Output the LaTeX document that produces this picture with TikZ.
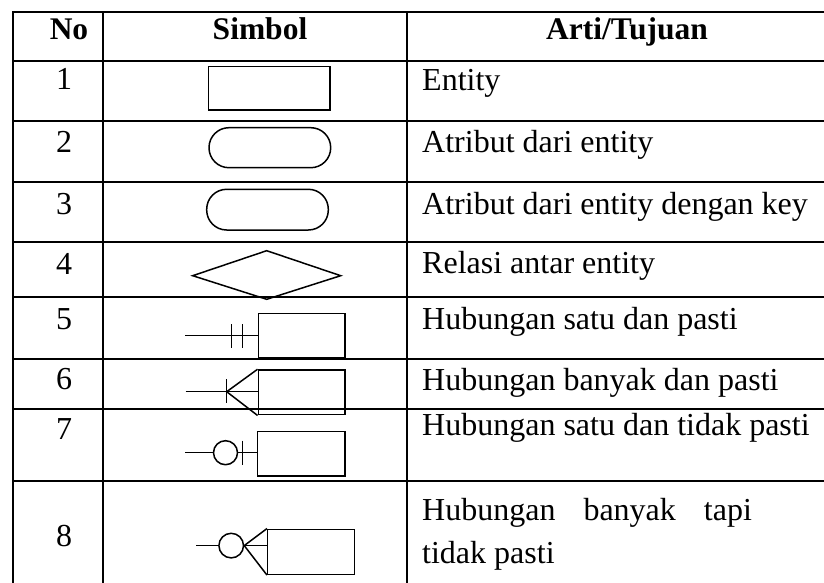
\documentclass[tikz,border=0pt]{standalone}
\usepackage{fontspec}
\setmainfont{Liberation Serif}
\usetikzlibrary{calc}
\begin{document}
\begin{tikzpicture}[x=1pt,y=-1pt,
  gridline/.style={line width=2.3pt, line cap=rect},
  sym/.style={line width=1.5pt},
  txt/.style={inner sep=0pt, font=\fontsize{32}{38}\selectfont},
  hdr/.style={inner sep=0pt, font=\fontsize{31.5}{38}\selectfont\bfseries},
  box/.style={draw, sym, inner sep=0pt, shape=rectangle},
  ring/.style={draw, sym, circle, inner sep=0pt, minimum size=24pt}]
\useasboundingbox (0,0) rectangle (824,583);
% grid
\foreach \yy in {12,61,121,182,242,297,359,409,481}
  \draw[gridline] (13,\yy) -- (826,\yy);
\foreach \xx in {13,103,407}
  \draw[gridline] (\xx,12) -- (\xx,586);
% header
\node[hdr, anchor=base] (hno) at (69,40) {No};
\node[hdr, anchor=base] (hsim) at (260,40) {Simbol};
\node[hdr, anchor=base] (hart) at (627,40) {Arti/Tujuan};
% numbers
\node[txt, anchor=base] (n1) at (64,90) {1};
\node[txt, anchor=base] (n2) at (64,153) {2};
\node[txt, anchor=base] (n3) at (64,214.5) {3};
\node[txt, anchor=base] (n4) at (64,274.5) {4};
\node[txt, anchor=base] (n5) at (64,329.5) {5};
\node[txt, anchor=base] (n6) at (64,389.5) {6};
\node[txt, anchor=base] (n7) at (64,439) {7};
\node[txt, anchor=base] (n8) at (64,546.5) {8};
% meanings
\node[txt, anchor=base west] (t1) at (422,91) {Entity};
\node[txt, anchor=base west] (t2) at (422,152) {Atribut dari entity};
\node[txt, anchor=base west] (t3) at (422,214) {Atribut dari entity dengan key};
\node[txt, anchor=base west] (t4) at (422,273) {Relasi antar entity};
\node[txt, anchor=base west] (t5) at (422,329) {Hubungan satu dan pasti};
\node[txt, anchor=base west] (t6) at (422,390) {Hubungan banyak dan pasti};
\node[txt, anchor=base west] (t7) at (422,435) {Hubungan satu dan tidak pasti};
\node[txt, anchor=base west] (t8a) at (422,520) {Hubungan\hspace{28pt}banyak\hspace{28pt}tapi};
\node[txt, anchor=base west] (t8b) at (422,563) {tidak pasti};
% symbols
\node[box, minimum width=121.7pt, minimum height=43.3pt] (e1) at (269.15,88.35) {};
\node[box, rounded corners=19.9pt, minimum width=121.7pt, minimum height=40pt] (a2) at (269.85,147.7) {};
\node[box, rounded corners=19.9pt, minimum width=121.6pt, minimum height=40.7pt] (a3) at (267.5,209.65) {};
\draw[sym, line join=miter] (192.7,275.7) -- (266.7,250.7) -- (340.7,275.7) -- (266.7,299.3) -- cycle;
% row 5
\node[box, minimum width=86.7pt, minimum height=44pt] (e5) at (301.65,335.3) {};
\coordinate (s5) at (185,335.7);
\draw[sym] (s5) -- (e5.west |- s5);
\draw[sym] (231.7,324.3) -- (231.7,347.7);
\draw[sym] (242.7,324.3) -- (242.7,347.7);
% row 6
\node[box, minimum width=86.7pt, minimum height=44.7pt] (e6) at (301.65,392.35) {};
\coordinate (s6) at (185.7,391.7);
\coordinate (k6) at (226.7,391.7);
\draw[sym] (s6) -- (e6.west |- s6);
\draw[sym] (226.7,379.3) -- (226.7,403.3);
\draw[sym] (e6.north west) -- (k6) -- (e6.south west);
% row 7
\node[box, minimum width=87.3pt, minimum height=44.3pt] (e7) at (301.35,453.85) {};
\node[ring] (o7) at (225.5,452.7) {};
\coordinate (s7) at (185,452.7);
\draw[sym] (s7) -- (o7.west);
\draw[sym] (o7.east) -- (e7.west |- o7.east);
\draw[sym] (242.7,440.7) -- (242.7,464.7);
% row 8
\node[box, minimum width=86.6pt, minimum height=45pt] (e8) at (311,551.8) {};
\node[ring, minimum size=24.6pt] (o8) at (231.2,545.6) {};
\coordinate (s8) at (196,545.6);
\draw[sym] (s8) -- (o8.west);
\draw[sym] (o8.east) -- ($(e8.west |- o8.east)+(1.5,0)$);
\draw[sym] (e8.north west) -- (o8.east) -- (e8.south west);
\end{tikzpicture}
\end{document}
